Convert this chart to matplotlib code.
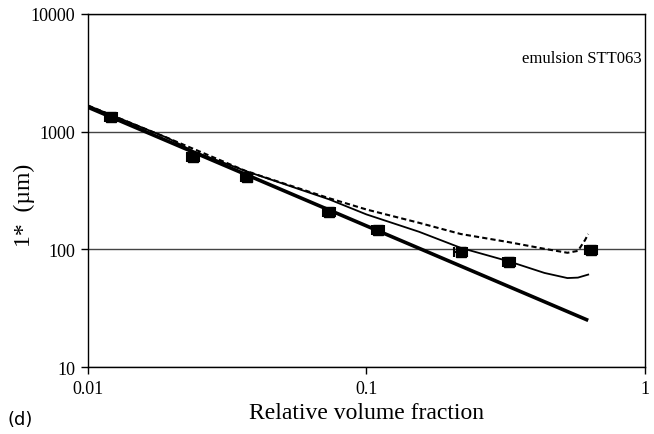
import matplotlib
matplotlib.use("Agg")
import matplotlib.pyplot as plt
from matplotlib.ticker import FixedLocator, NullLocator

# measured points (relative volume fraction, l* in um)
phi_data = [0.0121, 0.0239, 0.0371, 0.0734, 0.110, 0.218, 0.325, 0.643]
l_data = [1327, 607, 410, 207, 145, 95, 78, 98]
phi_err = [0.0006, 0.0012, 0.0018, 0.0036, 0.0055, 0.011, 0.016, 0.032]
l_err = [90, 45, 30, 15, 10, 7, 6, 7]

# thick straight line (power law)
phi_thick = [0.01, 0.626]
l_thick = [1612, 24.9]

# thin solid model curve
phi_thin = [0.01, 0.0194, 0.0239, 0.0371, 0.0734, 0.1, 0.1545, 0.218, 0.325, 0.436, 0.527, 0.575, 0.626]
l_thin = [1667, 880, 680, 460, 266, 198, 141, 103, 79, 63, 57, 57.5, 61]

# dashed model curve
phi_dash = [0.01, 0.0194, 0.0371, 0.0734, 0.1, 0.1545, 0.218, 0.325, 0.436, 0.527, 0.575, 0.61, 0.626]
l_dash = [1667, 880, 460, 272, 218, 168, 135, 115, 101, 93.5, 97, 120, 135]

SERIF = ["Liberation Serif", "DejaVu Serif"]

fig = plt.figure(figsize=(6.54, 4.35), dpi=100)
ax = fig.add_axes([0.1346, 0.154, 0.8514, 0.8116])

ax.plot(phi_thick, l_thick, color="black", lw=2.6, solid_capstyle="butt", zorder=3)
ax.plot(phi_thin, l_thin, color="black", lw=1.3, zorder=3)
ax.plot(phi_dash, l_dash, color="black", lw=1.5, ls=(0, (2.5, 1.5)), zorder=3)
ax.errorbar(phi_data, l_data, xerr=phi_err, yerr=l_err, fmt="s", color="black",
            ms=7, elinewidth=1.5, capsize=3.5, capthick=1.5, zorder=4)

ax.set_xscale("log")
ax.set_yscale("log")
ax.set_xlim(0.01, 1)
ax.set_ylim(10, 10000)

ax.xaxis.set_major_locator(FixedLocator([0.01, 0.1, 1]))
ax.xaxis.set_minor_locator(NullLocator())
ax.yaxis.set_major_locator(FixedLocator([10, 100, 1000, 10000]))
ax.yaxis.set_minor_locator(NullLocator())
ax.set_xticklabels(["0.01", "0.1", "1"], family=SERIF, fontsize=13)
ax.set_yticklabels(["10", "100", "1000", "10000"], family=SERIF, fontsize=13)
ax.tick_params(direction="out", length=5, width=1, pad=4)

ax.yaxis.grid(True, color="#444444", lw=1)
ax.set_axisbelow(True)
for s in ax.spines.values():
    s.set_linewidth(1)

ax.set_xlabel("Relative volume fraction", family=SERIF, fontsize=17, labelpad=4)
ax.set_ylabel("1*  (\u00b5m)", family=SERIF, fontsize=17, labelpad=10)
ax.yaxis.set_label_coords(-0.095, 0.46)

ax.text(0.995, 0.875, "emulsion STT063", transform=ax.transAxes, ha="right", va="center",
        family=SERIF, fontsize=12)
fig.text(0.012, 0.035, "(d)", fontsize=13, ha="left", va="center")

fig.savefig("out.png", dpi=100)
